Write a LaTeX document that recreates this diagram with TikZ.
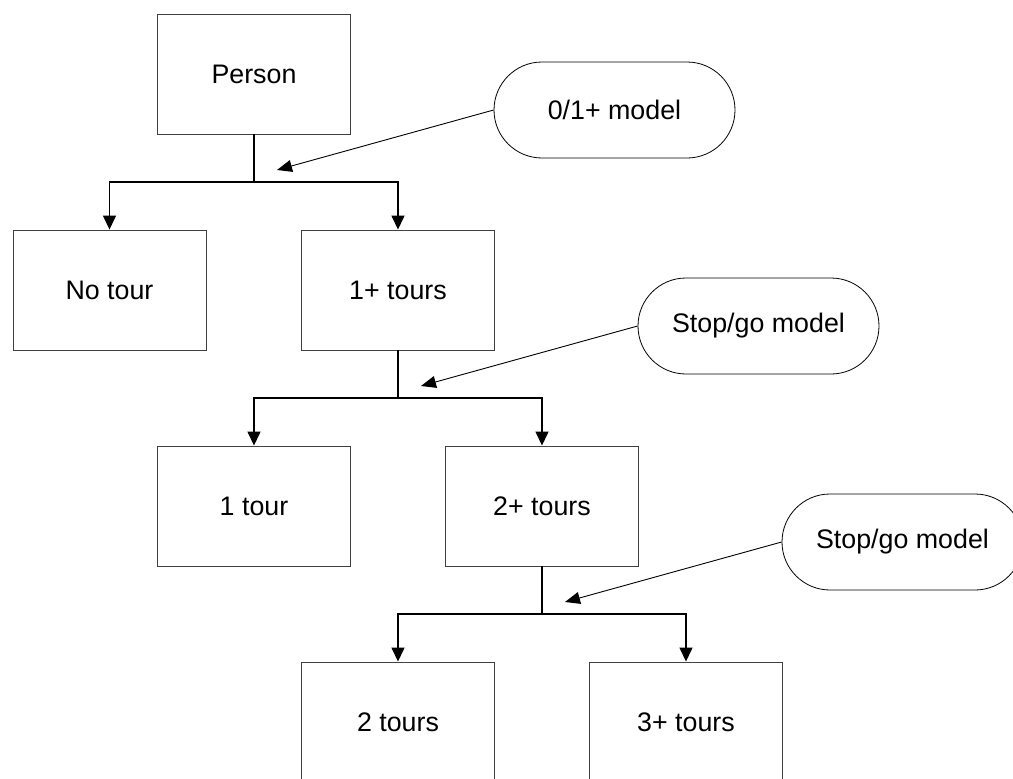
\documentclass[tikz,border=0pt]{standalone}
\usepackage{fontspec}
\setmainfont{Liberation Sans}
\usetikzlibrary{arrows.meta,shapes.misc}
\begin{document}
\begin{tikzpicture}[x=1pt,y=-1pt,
  box/.style={draw=black!75, line width=0.9pt, minimum width=193pt, minimum height=120pt, inner sep=0pt, font=\fontsize{26.8}{32}\selectfont},
  model/.style={draw=black, line width=0.8pt, rounded rectangle, minimum width=241pt, minimum height=96pt, inner sep=0pt, font=\fontsize{26.8}{32}\selectfont},
  conn/.style={draw=black, line width=1.4pt},
  tip/.style={-{Triangle[length=14pt,width=13pt]}},
  note/.style={draw=black, line width=0.9pt, -{Triangle[length=15pt,width=12pt]}}]
\useasboundingbox (0,0) rectangle (1013,779);
\clip (0,0) rectangle (1013,779);
% boxes
\node[box] (person) at (254,74) {Person};
\node[box] (notour) at (109.5,290) {No tour};
\node[box] (oneplus) at (398,290) {1+ tours};
\node[box] (one) at (254,506) {1 tour};
\node[box] (twoplus) at (542,506) {2+ tours};
\node[box] (two) at (398,722) {2 tours};
\node[box] (threeplus) at (686,722) {3+ tours};
% models
\node[model] (m1) at (614.5,110) {0/1+ model};
\node[model] (m2) at (758.5,326) {Stop/go model};
\node[model] (m3) at (902.5,542) {Stop/go model};
% junctions
\coordinate (j1) at (254,182);
\coordinate (j2) at (398,398);
\coordinate (j3) at (542,614);
\coordinate (t1) at (277,170);
\coordinate (t2) at (421,386);
\coordinate (t3) at (565,602);
% tree connectors
\draw[conn] (person.south) -- (j1);
\draw[conn,tip] (j1) -| (notour.north);
\draw[conn,tip] (j1) -| (oneplus.north);
\draw[conn] (oneplus.south) -- (j2);
\draw[conn,tip] (j2) -| (one.north);
\draw[conn,tip] (j2) -| (twoplus.north);
\draw[conn] (twoplus.south) -- (j3);
\draw[conn,tip] (j3) -| (two.north);
\draw[conn,tip] (j3) -| (threeplus.north);
% model arrows
\draw[note] (m1.west) -- (t1);
\draw[note] (m2.west) -- (t2);
\draw[note] (m3.west) -- (t3);
\end{tikzpicture}
\end{document}
